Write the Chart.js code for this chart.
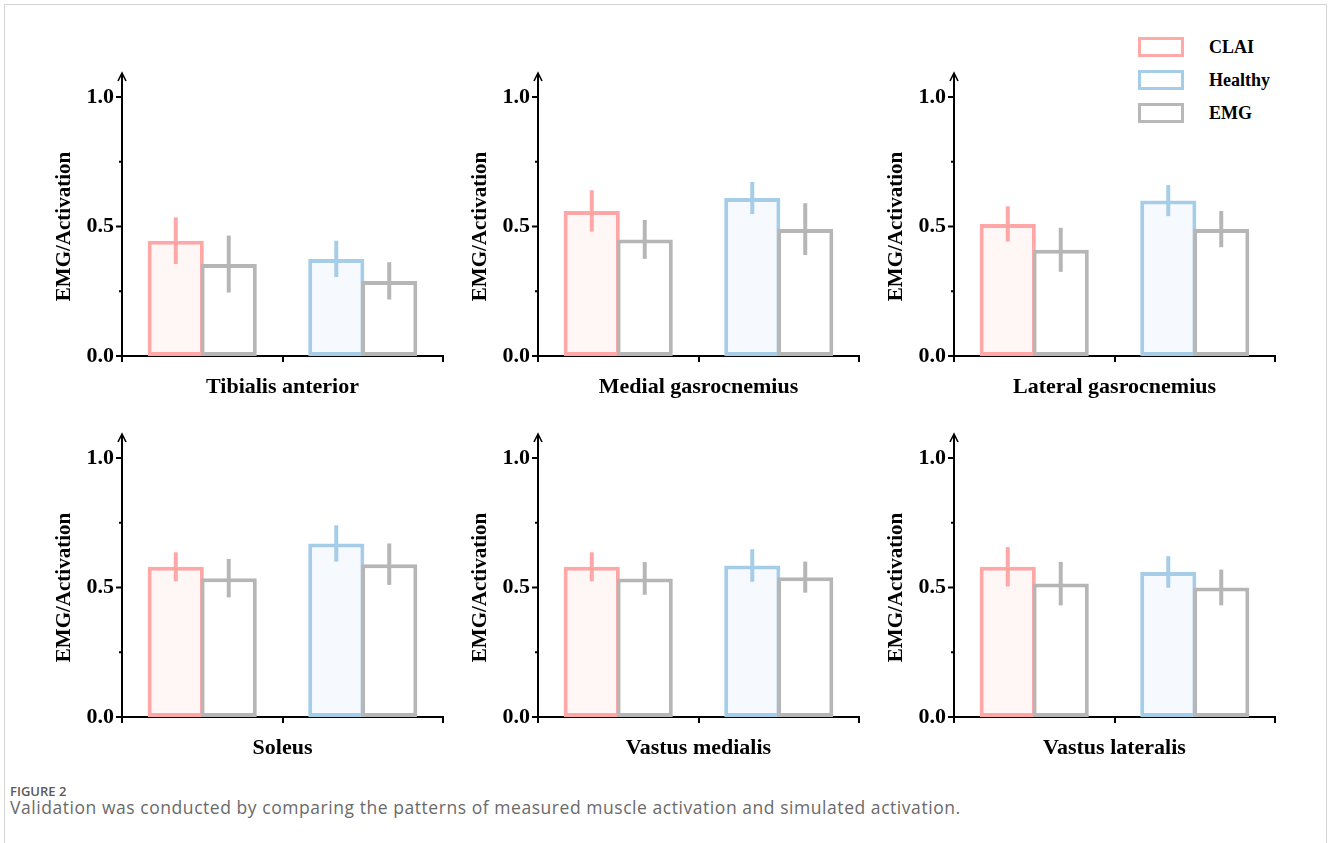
<!DOCTYPE html>
<html>
<head>
<meta charset="utf-8">
<script src="https://cdn.jsdelivr.net/npm/chart.js@4.4.1/dist/chart.umd.min.js"></script>
<style>
  body { margin: 0; background: #fff; width: 1328px; height: 843px; overflow: hidden; position: relative; }
  #frame { position: absolute; left: 4px; top: 4px; width: 1321px; height: 860px;
           border: 1px solid #d4d4d4; border-bottom: none; }
  canvas { position: absolute; }
  .leg { position: absolute; left: 1138px; width: 46px; height: 20px; box-sizing: border-box; border: 3px solid; }
  .legtxt { position: absolute; left: 1209px; font: bold 18px "Liberation Serif", "Times New Roman", serif; line-height: 20px; }
  #figno { position: absolute; left: 10px; top: 785px; font: 600 13px/1 "Open Sans", "Noto Sans", sans-serif; color: #5a5a5a; }
  #cap { position: absolute; left: 10px; top: 797px; font: 17.5px/1.2 "Open Sans", "Noto Sans", sans-serif; color: #6a6a6a; letter-spacing: 0.55px; white-space: nowrap; }
</style>
</head>
<body>
<div id="frame"></div>

<div class="leg" style="top:37px;border-color:#ffa9a9"></div><div class="legtxt" style="top:37px">CLAI</div>
<div class="leg" style="top:70px;border-color:#a6cde8"></div><div class="legtxt" style="top:70px">Healthy</div>
<div class="leg" style="top:103px;border-color:#b8b8b8"></div><div class="legtxt" style="top:103px">EMG</div>

<div id="figno">FIGURE 2</div>
<div id="cap">Validation was conducted by comparing the patterns of measured muscle activation and simulated activation.</div>

<script>
// data
const muscles = ['Tibialis anterior', 'Medial gasrocnemius', 'Lateral gasrocnemius',
                 'Soleus', 'Vastus medialis', 'Vastus lateralis'];
const groups = ['CLAI', 'Healthy'];
// simulated activation, [CLAI, Healthy] per muscle
const simMean = [[0.445, 0.375], [0.56, 0.61], [0.51, 0.60], [0.58, 0.67], [0.58, 0.585], [0.58, 0.56]];
const simErr  = [[0.09, 0.07],   [0.08, 0.062], [0.068, 0.06], [0.056, 0.07], [0.056, 0.063], [0.076, 0.061]];
// measured EMG, [CLAI, Healthy] per muscle
const emgMean = [[0.355, 0.29], [0.45, 0.49], [0.41, 0.49], [0.536, 0.59], [0.535, 0.54], [0.515, 0.50]];
const emgErr  = [[0.11, 0.072], [0.075, 0.1], [0.085, 0.07], [0.074, 0.08], [0.063, 0.06], [0.084, 0.069]];

const yMajor = [0, 0.5, 1.0];
const yMinor = [0.25, 0.75];

const pink = '#ffa7a7', blue = '#a6cde8', grey = '#b6b6b6';
const serif = '"Liberation Serif", "Times New Roman", serif';

const colX = [22, 438, 854];
const rowY = [67, 428];

// bars drawn left->right (EMG over sim), then error bars
const drawPlugin = {
    id: 'barsAndErrors',
    beforeDatasetsDraw(chart) {
        const ctx = chart.ctx;
        const y = chart.scales.y;
        for (let i = 0; i < chart.data.datasets.length; i++) {
            chart.getDatasetMeta(i).controller.draw();
        }
        chart.data.datasets.forEach((ds, i) => {
            const meta = chart.getDatasetMeta(i);
            meta.data.forEach((bar, j) => {
                const v = ds.data[j], e = ds.errors[j];
                ctx.save();
                ctx.strokeStyle = Array.isArray(ds.borderColor) ? ds.borderColor[j] : ds.borderColor;
                ctx.lineWidth = 4;
                ctx.beginPath();
                ctx.moveTo(bar.x, y.getPixelForValue(v + e));
                ctx.lineTo(bar.x, y.getPixelForValue(v - e));
                ctx.stroke();
                ctx.restore();
            });
        });
        return false;
    },
    afterDraw(chart) {
        const ctx = chart.ctx;
        const y = chart.scales.y;
        const a = chart.chartArea;
        const x0 = a.left;
        const tip = a.top - 24;
        ctx.save();
        ctx.strokeStyle = '#000';
        ctx.lineWidth = 2;
        ctx.beginPath();
        ctx.moveTo(x0, a.bottom + 1);
        ctx.lineTo(x0, tip);
        ctx.stroke();
        ctx.lineWidth = 1.6;
        ctx.beginPath();
        ctx.moveTo(x0 - 4, tip + 8);
        ctx.lineTo(x0, tip);
        ctx.lineTo(x0 + 4, tip + 8);
        ctx.stroke();
        ctx.lineWidth = 2;
        yMajor.forEach(v => {
            const p = y.getPixelForValue(v);
            ctx.beginPath(); ctx.moveTo(x0 - 6, p); ctx.lineTo(x0, p); ctx.stroke();
        });
        yMinor.forEach(v => {
            const p = y.getPixelForValue(v);
            ctx.beginPath(); ctx.moveTo(x0 - 3, p); ctx.lineTo(x0, p); ctx.stroke();
        });
        ctx.restore();
    }
};

muscles.forEach((name, k) => {
    const cv = document.createElement('canvas');
    cv.width = 431;
    cv.height = 334;
    cv.style.left = colX[k % 3] + 'px';
    cv.style.top = rowY[Math.floor(k / 3)] + 'px';
    document.body.appendChild(cv);

    new Chart(cv, {
        type: 'bar',
        plugins: [drawPlugin],
        data: {
            labels: groups,
            datasets: [
                {
                    data: simMean[k],
                    errors: simErr[k],
                    borderColor: [pink, blue],
                    backgroundColor: ['#fff6f6', '#f6f9fd'],
                    borderWidth: 4,
                    borderSkipped: false,
                },
                {
                    data: emgMean[k],
                    errors: emgErr[k],
                    borderColor: grey,
                    backgroundColor: '#ffffff',
                    borderWidth: 4,
                    borderSkipped: false,
                }
            ]
        },
        options: {
            responsive: false,
            animation: false,
            devicePixelRatio: 1,
            categoryPercentage: 0.66,
            barPercentage: 1.06,
            layout: { padding: { top: 30, right: 10, left: 0, bottom: 0 } },
            plugins: {
                legend: { display: false },
                tooltip: { enabled: false },
            },
            scales: {
                x: {
                    offset: true,
                    afterFit: s => { s.height = 45; },
                    ticks: { display: false },
                    grid: {
                        offset: true,
                        drawOnChartArea: false,
                        drawTicks: true,
                        tickLength: 6,
                        color: '#000',
                        lineWidth: 2,
                    },
                    border: { display: true, color: '#000', width: 2 },
                    title: {
                        display: true,
                        text: name,
                        color: '#000',
                        font: { family: serif, size: 22, weight: 'bold' },
                        padding: { top: 0, bottom: 0 },
                    },
                },
                y: {
                    min: 0,
                    max: 1,
                    afterFit: s => { s.width = 100; },
                    afterBuildTicks: s => { s.ticks = yMajor.map(v => ({ value: v })); },
                    grid: { display: false, drawTicks: false },
                    border: { display: false },
                    ticks: {
                        padding: 8,
                        color: '#000',
                        font: { family: serif, size: 22, weight: 'bold' },
                        callback: v => v.toFixed(1),
                    },
                    title: {
                        display: true,
                        text: 'EMG/Activation',
                        color: '#000',
                        font: { family: serif, size: 21, weight: 'bold' },
                        padding: { top: 30, bottom: 0 },
                    },
                }
            }
        }
    });
});
</script>
</body>
</html>
